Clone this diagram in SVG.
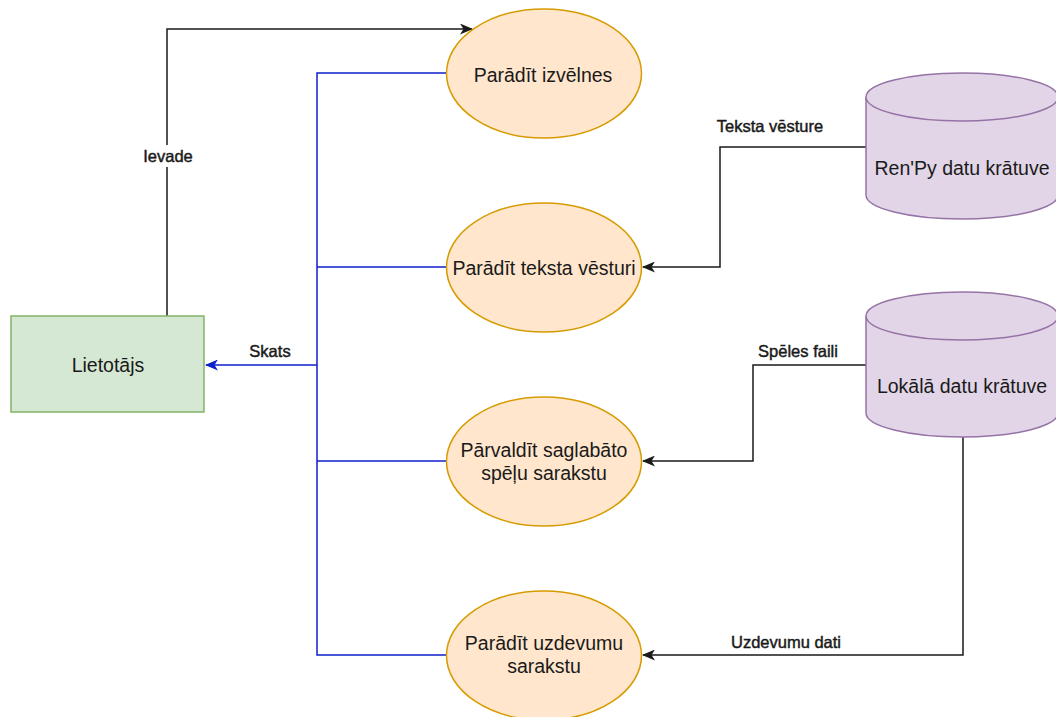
<svg xmlns="http://www.w3.org/2000/svg" width="1056" height="717" viewBox="0 0 1056 717">
  <style>
    .proc { fill: #ffe6cc; stroke: #d79b00; stroke-width: 1.5; }
    .actor { fill: #d5e8d4; stroke: #82b366; stroke-width: 1.5; }
    .store { fill: #e1d5e7; stroke: #9673a6; stroke-width: 1.5; }
    .lbl { font-family: "Liberation Sans", Arial, sans-serif; font-size: 19.5px; fill: #1a1a1a; text-anchor: middle; }
    .elbl { font-family: "Liberation Sans", Arial, sans-serif; font-size: 16.5px; fill: #1a1a1a; stroke: #1a1a1a; stroke-width: 0.45; text-anchor: middle; }
    .blue { fill: none; stroke: #0f1fcc; stroke-width: 1.5; }
    .black { fill: none; stroke: #1a1a1a; stroke-width: 1.5; }
  </style>
  <defs>
    <marker id="arrBlack" viewBox="0 0 13 11" refX="12" refY="5.5" markerWidth="13" markerHeight="11" markerUnits="userSpaceOnUse" orient="auto">
      <path d="M0,0 L13,5.5 L0,11 L3.5,5.5 Z" fill="#1a1a1a"/>
    </marker>
    <marker id="arrBlue" viewBox="0 0 13 11" refX="12" refY="5.5" markerWidth="13" markerHeight="11" markerUnits="userSpaceOnUse" orient="auto">
      <path d="M0,0 L13,5.5 L0,11 L3.5,5.5 Z" fill="#0f1fcc"/>
    </marker>
  </defs>

  <rect width="1056" height="717" fill="#ffffff"/>

  <!-- connectors -->
  <g id="connectors">
    <!-- Skats: processes to user -->
    <path class="blue" d="M446,73 H317 V655 H446"/>
    <path class="blue" d="M317,267 H446"/>
    <path class="blue" d="M317,461 H446"/>
    <path class="blue" d="M317,365 H206" marker-end="url(#arrBlue)"/>
    <text class="elbl" x="270" y="357">Skats</text>

    <!-- Ievade: user to menu -->
    <path class="black" d="M167,316 V29 H472" marker-end="url(#arrBlack)"/>
    <rect x="137" y="145" width="60" height="22" fill="#ffffff"/>
    <text class="elbl" x="168" y="162">Ievade</text>

    <!-- Teksta vēsture -->
    <path class="black" d="M866,147 H720 V267 H643" marker-end="url(#arrBlack)"/>
    <text class="elbl" x="770" y="132">Teksta vēsture</text>

    <!-- Spēles faili -->
    <path class="black" d="M866,365 H753 V461 H643" marker-end="url(#arrBlack)"/>
    <text class="elbl" x="798" y="357">Spēles faili</text>

    <!-- Uzdevumu dati -->
    <path class="black" d="M963,437 V655 H643" marker-end="url(#arrBlack)"/>
    <text class="elbl" x="786" y="648">Uzdevumu dati</text>
  </g>

  <!-- user -->
  <g id="user">
    <rect class="actor" x="11" y="316" width="193" height="96"/>
    <text class="lbl" x="108" y="372">Lietotājs</text>
  </g>

  <!-- processes -->
  <g id="show-menus">
    <ellipse class="proc" cx="544" cy="73.5" rx="97.5" ry="64.5"/>
    <text class="lbl" x="543" y="82">Parādīt izvēlnes</text>
  </g>
  <g id="show-history">
    <ellipse class="proc" cx="544" cy="267.5" rx="97.5" ry="64.5"/>
    <text class="lbl" x="544" y="275">Parādīt teksta vēsturi</text>
  </g>
  <g id="manage-saves">
    <ellipse class="proc" cx="544" cy="461.5" rx="97.5" ry="64.5"/>
    <text class="lbl" x="544" y="457">Pārvaldīt saglabāto</text>
    <text class="lbl" x="544" y="480">spēļu sarakstu</text>
  </g>
  <g id="show-tasks">
    <ellipse class="proc" cx="544" cy="655.5" rx="97.5" ry="64.5"/>
    <text class="lbl" x="544" y="650">Parādīt uzdevumu</text>
    <text class="lbl" x="544" y="673">sarakstu</text>
  </g>

  <!-- data stores -->
  <g id="renpy-store">
    <path class="store" d="M866,97 A96,24 0 0 1 1058,97 V195 A96,24 0 0 1 866,195 Z"/>
    <path class="store" fill="none" d="M866,97 A96,24 0 0 0 1058,97"/>
    <text class="lbl" x="962" y="175">Ren'Py datu krātuve</text>
  </g>
  <g id="local-store">
    <path class="store" d="M866,316 A96,24 0 0 1 1058,316 V413 A96,24 0 0 1 866,413 Z"/>
    <path class="store" fill="none" d="M866,316 A96,24 0 0 0 1058,316"/>
    <text class="lbl" x="962" y="393">Lokālā datu krātuve</text>
  </g>
</svg>
